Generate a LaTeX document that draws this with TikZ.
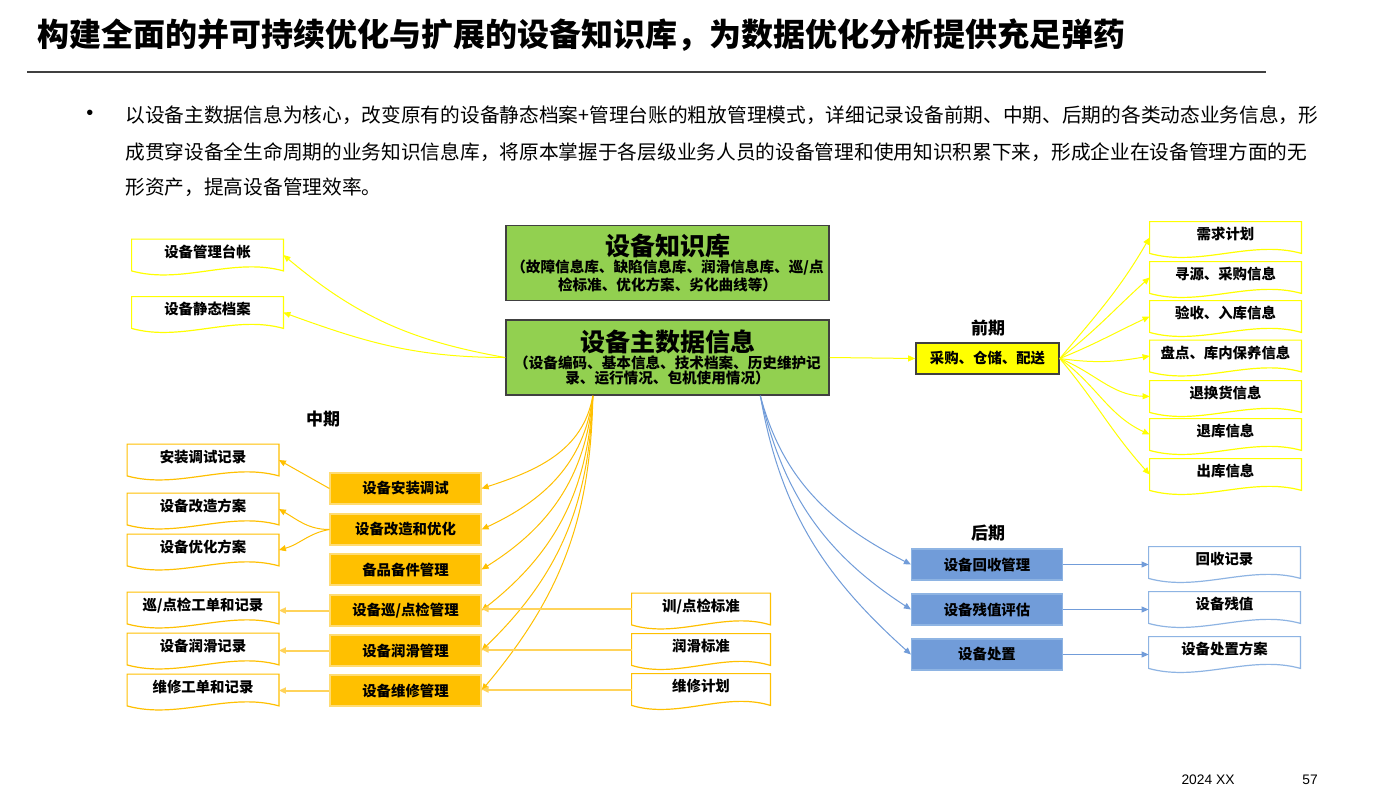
\documentclass[tikz,border=0pt]{standalone}
\usepackage{fontspec}
\setmainfont{Liberation Sans}
\newfontfamily\cjk{Noto Sans CJK SC}
\usetikzlibrary{arrows.meta,positioning,calc}
\definecolor{leaf}{HTML}{92D050}
\definecolor{lemon}{HTML}{FFFF00}
\definecolor{amber}{HTML}{FFC000}
\definecolor{paleamber}{HTML}{FFD35A}
\definecolor{sky}{HTML}{719CD9}
\definecolor{skyline}{HTML}{8EB4E3}
\definecolor{rim}{HTML}{404040}
\tikzset{hub/.style={draw=rim,fill=leaf,line width=.8pt,minimum width=161.5pt,minimum height=37.5pt,
    inner sep=1pt,align=center,font=\cjk\bfseries\fontsize{7.3}{7.6}\selectfont},
  doc/.style={minimum width=75.5pt,minimum height=15.5pt,inner sep=0pt,
    font=\cjk\bfseries\fontsize{7.2}{8}\selectfont,text height=6.5pt,text depth=4.1pt},
  stage/.style={minimum width=75.5pt,minimum height=15.5pt,inner sep=0pt,font=\cjk\bfseries\fontsize{7.2}{8}\selectfont},
  early/.style={stage,fill=lemon,draw=rim,line width=.8pt,minimum width=71.5pt},
  mid/.style={stage,fill=amber,draw=amber!55!white,line width=.6pt},
  late/.style={stage,fill=sky,draw=skyline,line width=.6pt},
  phase/.style={font=\cjk\bfseries\fontsize{8.5}{10}\selectfont},
  feed/.style={-{Triangle[length=3.5pt,width=3pt]},line width=.5pt}}
% document shape: straight top and sides, wavy bottom
\newcommand{\docframe}[2]{%
\draw[#2,line width=.6pt] (#1.south west) -- (#1.north west) -- (#1.north east) -- (#1.south east)
  .. controls ($(#1.south west)!.67!(#1.south east)+(0,-14)$) and ($(#1.south west)!.33!(#1.south east)+(0,14)$) .. (#1.south west) -- cycle;}
\begin{document}
\begin{tikzpicture}[x=.5pt,y=-.5pt]
\fill[white] (0,0) rectangle (1398,793);
\useasboundingbox (0,0) rectangle (1398,793);
% heading
\node[anchor=west,font=\cjk\bfseries\fontsize{16}{20}\selectfont,inner sep=0pt] (title) at (37,35)
  {构建全面的并可持续优化与扩展的设备知识库，为数据优化分析提供充足弹药};
\draw[rim,line width=.75pt] (27,72) -- (1266,72);
\node[font=\fontsize{10}{12}\selectfont] (dot) at (90,115) {•};
\begin{scope}[every node/.style={anchor=base west,inner sep=0pt,font=\cjk\fontsize{9.85}{12}\selectfont}]
\node (para1) at (125,122.5) {以设备主数据信息为核心，改变原有的设备静态档案+管理台账的粗放管理模式，详细记录设备前期、中期、后期的各类动态业务信息，形};
\node (para2) at (125,159.5) {成贯穿设备全生命周期的业务知识信息库，将原本掌握于各层级业务人员的设备管理和使用知识积累下来，形成企业在设备管理方面的无};
\node (para3) at (125,194.5) {形资产，提高设备管理效率。};
\end{scope}
% core
\node[hub] (kb) at (667.5,263) {{\fontsize{12.5}{15}\selectfont 设备知识库}\\[1pt]
  （故障信息库、缺陷信息库、润滑信息库、巡/点\\检标准、优化方案、劣化曲线等）};
\node[hub] (core) at (667.5,357.5) {{\fontsize{12.5}{15}\selectfont 设备主数据信息}\\[1pt]
  （设备编码、基本信息、技术档案、历史维护记\\录、运行情况、包机使用情况）};
\node[doc] (ledger) at (207.5,255) {设备管理台帐};
\node[doc] (archive) at (207.5,312.5) {设备静态档案};
\docframe{ledger}{lemon}
\docframe{archive}{lemon}
\draw[feed,lemon] (core.west) to[out=170,in=-40] (ledger.east);
\draw[feed,lemon] (core.west) to[out=180,in=-20] (archive.east);
% early stage
\node[phase] (earlylbl) at (988,328) {前期};
\node[early] (supply) at (987.5,358.5) {采购、仓储、配送};
\draw[feed,lemon] (core.east) -- (supply.west);
\foreach \n/\y/\t in {need/237.5/需求计划,source/277.5/寻源、采购信息,accept/316.5/验收、入库信息,
  stock/356/盘点、库内保养信息,swap/396.5/退换货信息,back/434.5/退库信息,out/474.5/出库信息}{
  \node[doc] (\n) at (1225.5,\y) {\t};
  \docframe{\n}{lemon}
}
\foreach \n/\o/\i in {need/50/240,source/38/222,accept/22/205,stock/-8/190,swap/-22/178,back/-36/155,out/-50/132}
  \draw[feed,lemon] (supply.east) to[out=\o,in=\i] (\n.west);
% middle stage
\node[phase] (midlbl) at (323,419) {中期};
\foreach \n/\y/\t in {install/488.5/设备安装调试,revamp/529.5/设备改造和优化,spare/569.5/备品备件管理,
  patrol/610.5/{设备巡/点检管理},lube/650.5/设备润滑管理,repair/690.5/设备维修管理}
  \node[mid] (\n) at (405.5,\y) {\t};
\foreach \n/\y/\t in {installrec/460/安装调试记录,revplan/509/设备改造方案,optplan/550/设备优化方案,
  patrolrec/608/{巡/点检工单和记录},luberec/649/设备润滑记录,repairrec/690/维修工单和记录}{
  \node[doc] (\n) at (203,\y) {\t};
  \docframe{\n}{amber}
}
\foreach \n/\y/\t in {patrolstd/609/{训/点检标准},lubestd/649.5/润滑标准,repairplan/689.5/维修计划}{
  \node[doc,minimum width=69pt] (\n) at (701,\y) {\t};
  \docframe{\n}{amber}
}
\coordinate (midtap) at ($(core.south west)!.27!(core.south east)$);
\foreach \n/\o/\i in {install/-100/18,revamp/-97/25,spare/-95/32,patrol/-93/38,lube/-92/44,repair/-91/50}
  \draw[feed,amber] (midtap) to[out=\o,in=\i] (\n.east);
\draw[feed,amber] (install.west) -- (installrec.east);
\draw[feed,amber] (revamp.west) to[out=180,in=-30] (revplan.east);
\draw[feed,amber] (revamp.west) to[out=190,in=15] (optplan.east);
\foreach \a/\b in {patrol/patrolrec,lube/luberec,repair/repairrec}
  \draw[feed,paleamber,line width=1pt] (\a.west) -- (\a.west -| \b.east);
\foreach \a/\b in {patrolstd/patrol,lubestd/lube,repairplan/repair}
  \draw[feed,paleamber,line width=1pt] (\a.west) -- (\a.west -| \b.east);
% late stage
\node[phase] (latelbl) at (988,533) {后期};
\foreach \n/\y/\t in {recycle/564.5/设备回收管理,residual/609.5/设备残值评估,dispose/654.5/设备处置}
  \node[late] (\n) at (987,\y) {\t};
\foreach \n/\y/\t in {recyclerec/562.5/回收记录,residualval/607.5/设备残值,disposeplan/652.5/设备处置方案}{
  \node[doc] (\n) at (1224.5,\y) {\t};
  \docframe{\n}{skyline}
}
\coordinate (latetap) at ($(core.south west)!.786!(core.south east)$);
\foreach \n/\o/\i in {recycle/-75/153,residual/-77/147,dispose/-80/138}
  \draw[feed,sky] (latetap) to[out=\o,in=\i] (\n.west);
\foreach \a/\b in {recycle/recyclerec,residual/residualval,dispose/disposeplan}
  \draw[feed,sky] (\a.east) -- (\a.east -| \b.west);
% footer
\node[font=\fontsize{6.9}{8}\selectfont] (stamp) at (1208,780) {2024 XX};
\node[font=\fontsize{6.9}{8}\selectfont] (pageno) at (1310,780) {57};
\end{tikzpicture}
\end{document}
